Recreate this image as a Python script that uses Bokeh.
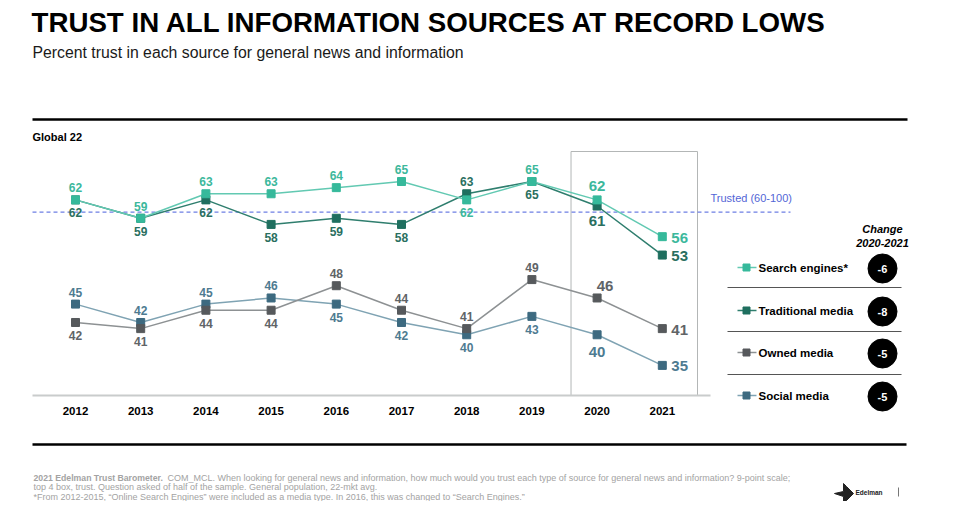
from bokeh.plotting import figure
from bokeh.models import Range1d, ColumnDataSource
from bokeh.core.properties import value
from bokeh.embed import file_html
from bokeh.resources import INLINE

# ---------------- data ----------------
YEARS = [2012, 2013, 2014, 2015, 2016, 2017, 2018, 2019, 2020, 2021]
SEARCH = [62, 59, 63, 63, 64, 65, 62, 65, 62, 56]
TRAD = [62, 59, 62, 58, 59, 58, 63, 65, 61, 53]
OWNED = [42, 41, 44, 44, 48, 44, 41, 49, 46, 41]
SOCIAL = [45, 42, 45, 46, 45, 42, 40, 43, 40, 35]
SERIES_NAMES = ["Search engines*", "Traditional media", "Owned media", "Social media"]
TRUSTED_LEVEL = 60
TRUSTED_LABEL = "Trusted (60-100)"
HIGHLIGHT_YEAR = 2020

TITLE = "TRUST IN ALL INFORMATION SOURCES AT RECORD LOWS"
SUBTITLE = "Percent trust in each source for general news and information"
PANEL = "Global 22"

# ---------------- styles / placement ----------------
LINE_COLORS = ["#62c9b2", "#2f7e6e", "#8d9193", "#7fa3b3"]
MARK_COLORS = ["#36b99b", "#1f6f5f", "#56595c", "#3d6a80"]
TEXT_COLORS = ["#3cb89c", "#2a6f60", "#606467", "#4e7b91"]
# label placement per point: a=above, b=below
PLACE = [
    ["a", "a", "a", "a", "a", "a", "b", "a"],
    ["b", "b", "b", "b", "b", "b", "a", "b"],
    ["b", "b", "b", "b", "a", "a", "a", "a"],
    ["a", "a", "a", "a", "b", "b", "b", "b"],
]
# 2020 label offsets (px) per series
OFF2020 = [(0, -14), (0, 15), (8, -12), (0, 17)]

FONT = value("Liberation Sans")
W, H = 954, 501
PXY = 65.2   # px per year
PXV = 6.13   # px per point
X0 = 2012 - 75 / PXY
X1 = X0 + W / PXY
Y1 = 65 + 181 / PXV
Y0 = Y1 - H / PXV


def dx(px):
    return X0 + px / PXY


def dy(py):
    return Y1 - py / PXV


p = figure(width=W, height=H, x_range=Range1d(X0, X1), y_range=Range1d(Y0, Y1),
           output_backend="svg", toolbar_location=None,
           x_axis_type=None, y_axis_type=None, min_border=0)
p.grid.visible = False
p.outline_line_color = None
p.background_fill_color = "white"
p.border_fill_color = "white"


def txt(t, px, py, size, color="black", style="normal", align="left", font=FONT):
    p.text(x=[dx(px)], y=[dy(py)], text=[t], text_font=font, text_font_size=size,
           text_font_style=style, text_color=color, text_align=align,
           text_baseline="middle")


def hline(x_a, x_b, py, color, width=1, dash="solid"):
    p.segment(x0=[dx(x_a)], y0=[dy(py)], x1=[dx(x_b)], y1=[dy(py)],
              line_color=color, line_width=width, line_dash=dash)


# titles
txt(TITLE, 31, 22, "27.7px", style="bold")
txt(SUBTITLE, 32, 52, "15.8px", color="#1a1a1a")
hline(32, 907, 119, "black", 2.5)
txt(PANEL, 32, 136, "11px", style="bold")

# highlight box around 2020-2021
hi = YEARS.index(HIGHLIGHT_YEAR)
p.quad(left=[YEARS[hi] - 0.4], right=[YEARS[-1] + 0.54], bottom=[dy(395)], top=[dy(151)],
       fill_color=None, line_color="#b3b6b6", line_width=1)

# trusted line
p.segment(x0=[dx(32)], y0=[TRUSTED_LEVEL], x1=[dx(790)], y1=[TRUSTED_LEVEL],
          line_color="#6e7fe3", line_width=1.3, line_dash="4 3")
p.text(x=[dx(710)], y=[TRUSTED_LEVEL], y_offset=[-14], text=[TRUSTED_LABEL],
       text_font=FONT, text_font_size="11px", text_color="#5365d6",
       text_baseline="middle")

# x axis line and year labels
hline(32, 710, 395, "#c9cccc", 2)
p.text(x=YEARS, y=[dy(410)] * len(YEARS), text=[str(y) for y in YEARS],
       text_font=FONT, text_font_size="11.5px", text_font_style="bold",
       text_color="black", text_align="center", text_baseline="middle")

SERIES = [SEARCH, TRAD, OWNED, SOCIAL]
for i in [3, 2, 1, 0]:
    vals = SERIES[i]
    p.line(YEARS, vals, line_color=LINE_COLORS[i], line_width=1.5)
    p.scatter(YEARS, vals, marker="square", size=8, fill_color=MARK_COLORS[i],
              line_color=MARK_COLORS[i])

for i, vals in enumerate(SERIES):
    # regular labels
    n = len(PLACE[i])
    yo = [-12 if pl == "a" else 13 for pl in PLACE[i]]
    src = ColumnDataSource(dict(x=YEARS[:n], y=vals[:n], t=[str(v) for v in vals[:n]], yo=yo))
    p.text(x="x", y="y", text="t", y_offset="yo", source=src, text_font=FONT,
           text_font_size="12px", text_font_style="bold", text_color=TEXT_COLORS[i],
           text_align="center", text_baseline="middle")
    # 2020 label
    ox, oy = OFF2020[i]
    p.text(x=[YEARS[hi]], y=[vals[hi]], text=[str(vals[hi])], x_offset=[ox], y_offset=[oy],
           text_font=FONT, text_font_size="15px", text_font_style="bold",
           text_color=TEXT_COLORS[i], text_align="center", text_baseline="middle")
    # 2021 label
    p.text(x=[YEARS[-1]], y=[vals[-1]], text=[str(vals[-1])], x_offset=[9], y_offset=[1],
           text_font=FONT, text_font_size="15px", text_font_style="bold",
           text_color=TEXT_COLORS[i], text_align="left", text_baseline="middle")

# legend with change 2020-2021
txt("Change", 882, 228, "11px", style="bold italic", align="center")
txt("2020-2021", 882, 242, "11px", style="bold italic", align="center")
LEG_Y = [267, 310, 352, 395]
SEP_Y = [287, 331, 374]
for sy in SEP_Y:
    hline(727, 901, sy, "#555555", 1.2)
for i, name in enumerate(SERIES_NAMES):
    ly = LEG_Y[i]
    p.segment(x0=[dx(737)], y0=[dy(ly)], x1=[dx(756)], y1=[dy(ly)],
              line_color=LINE_COLORS[i], line_width=1.5)
    p.scatter([dx(746)], [dy(ly)], marker="square", size=7, fill_color=MARK_COLORS[i],
              line_color=MARK_COLORS[i])
    txt(name, 758, ly, "11.5px", style="bold")
    change = SERIES[i][-1] - SERIES[i][hi]
    p.scatter([dx(882)], [dy(ly + 1)], marker="circle", size=29, fill_color="black",
              line_color="black")
    txt(str(change), 882, ly + 1, "11px", color="white", style="bold", align="center")

# bottom rule and footnotes
hline(32, 906, 444, "black", 2.5)
FOOT_C = "#a3a3a3"
txt("2021 Edelman Trust Barometer.", 33, 477, "8.7px", color=FOOT_C, style="bold")
txt("COM_MCL.  When looking for general news and information, how much would you trust each type  of source for general news and information? 9-point scale;",
    167, 477, "9px", color=FOOT_C)
txt("top 4 box, trust. Question asked of half of the sample. General population, 22-mkt avg.",
    33, 486, "9px", color=FOOT_C)
txt("*From 2012-2015, \u201cOnline Search Engines\u201d were included as a media type. In 2016, this was changed to \u201cSearch Engines.\u201d",
    33, 496, "9px", color=FOOT_C)

# Edelman logo
p.patch(x=[dx(834), dx(843), dx(843), dx(846), dx(853), dx(846), dx(846), dx(843), dx(843)],
        y=[dy(493), dy(491), dy(483), dy(486), dy(493), dy(500), dy(503), dy(503), dy(496)],
        fill_color="#222222", line_color="#222222")
txt("Edelman", 855, 492, "6.5px", color="#222222", style="bold")
p.segment(x0=[dx(898)], y0=[dy(487)], x1=[dx(898)], y1=[dy(496)], line_color="#777777", line_width=1)

open("out.html", "w").write(file_html(p, INLINE))
